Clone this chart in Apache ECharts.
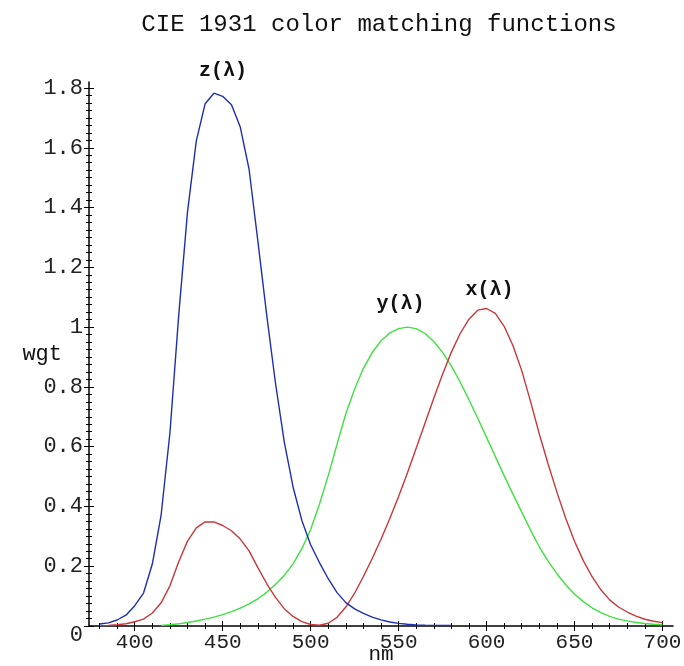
<!DOCTYPE html>
<html>
<head>
<meta charset="utf-8">
<script src="https://cdn.jsdelivr.net/npm/echarts@6/dist/echarts.min.js"></script>
<style>
html,body{margin:0;padding:0;background:#fff;}
#chart{width:684px;height:666px;}
</style>
</head>
<body>
<div id="chart"></div>
<script>
// Wavelengths (nm), 5 nm steps
const wavelengths = [380,385,390,395,400,405,410,415,420,425,430,435,440,445,450,455,460,465,470,475,480,485,490,495,500,505,510,515,520,525,530,535,540,545,550,555,560,565,570,575,580,585,590,595,600,605,610,615,620,625,630,635,640,645,650,655,660,665,670,675,680,685,690,695,700];
// x(λ)
const xbar = [0.0014,0.0022,0.0042,0.0077,0.0143,0.0232,0.0435,0.0776,0.1344,0.2148,0.2839,0.3285,0.3483,0.3481,0.3362,0.3187,0.2908,0.2511,0.1954,0.1421,0.0956,0.0580,0.0320,0.0147,0.0049,0.0024,0.0093,0.0291,0.0633,0.1096,0.1655,0.2257,0.2904,0.3597,0.4334,0.5121,0.5945,0.6784,0.7621,0.8425,0.9163,0.9786,1.0263,1.0567,1.0622,1.0456,1.0026,0.9384,0.8544,0.7514,0.6424,0.5419,0.4479,0.3608,0.2835,0.2187,0.1649,0.1212,0.0874,0.0636,0.0468,0.0329,0.0227,0.0158,0.0114];
// y(λ), plotted from 415 nm
const ybarStart = 415;
const ybar = [0.0022,0.0040,0.0073,0.0116,0.0168,0.0230,0.0298,0.0380,0.0480,0.0600,0.0739,0.0910,0.1126,0.1390,0.1693,0.2080,0.2586,0.3230,0.4073,0.5030,0.6082,0.7100,0.7932,0.8620,0.9149,0.9540,0.9803,0.9950,1.0000,0.9950,0.9786,0.9520,0.9154,0.8700,0.8163,0.7570,0.6949,0.6310,0.5668,0.5030,0.4412,0.3810,0.3210,0.2650,0.2170,0.1750,0.1382,0.1070,0.0816,0.0610,0.0446,0.0320,0.0232,0.0170,0.0119,0.0082,0.0057,0.0041];
// z(λ), plotted up to 580 nm
const zbar = [0.0065,0.0106,0.0201,0.0362,0.0679,0.1102,0.2074,0.3713,0.6456,1.0391,1.3856,1.6230,1.7471,1.7826,1.7721,1.7441,1.6692,1.5281,1.2876,1.0419,0.8130,0.6162,0.4652,0.3533,0.2720,0.2123,0.1582,0.1117,0.0783,0.0573,0.0422,0.0298,0.0203,0.0134,0.0088,0.0058,0.0039,0.0028,0.0021,0.0018,0.0017];

const xMajorTicks = [400,450,500,550,600,650,700];
const yMajorTicks = [0,0.2,0.4,0.6,0.8,1,1.2,1.4,1.6,1.8];
const xMinorTicks = [];
for (let v = 380; v <= 700; v += 10) xMinorTicks.push(v);
const yMinorTicks = [];
for (let i = 0; i <= 72; i++) yMinorTicks.push(Math.round(i * 25) / 1000);

const seriesNames = ['x(λ)', 'y(λ)', 'z(λ)'];

const FONT = 'Liberation Mono';
const X_MIN = 374, X_MAX = 706, Y_MIN = 0, Y_MAX = 1.82;

function pairs(xs, ys, start) {
  const out = [];
  const offset = start === undefined ? 0 : xs.indexOf(start);
  for (let i = 0; i < ys.length; i++) out.push([xs[i + offset], ys[i]]);
  return out;
}

function xAx(extra) {
  return Object.assign({
    type: 'value', gridIndex: 0, position: 'bottom', min: X_MIN, max: X_MAX,
    axisLine: { show: false, onZero: false }, splitLine: { show: false },
    axisLabel: { show: false }
  }, extra);
}
function yAx(extra) {
  return Object.assign({
    type: 'value', gridIndex: 0, position: 'left', min: Y_MIN, max: Y_MAX,
    axisLine: { show: false, onZero: false }, splitLine: { show: false },
    axisLabel: { show: false }
  }, extra);
}
const tickStyle = { color: '#000', width: 1 };

function peakLabel(text, offset) {
  return {
    symbol: 'circle', symbolSize: 1,
    itemStyle: { color: 'rgba(0,0,0,0)' },
    label: {
      show: true, formatter: text, position: 'inside', offset: offset,
      color: '#111', fontFamily: FONT, fontSize: 20, fontWeight: 'bold'
    },
    data: [{ type: 'max' }]
  };
}

const chart = echarts.init(document.getElementById('chart'), null, { renderer: 'canvas' });
chart.setOption({
  animation: false,
  backgroundColor: '#fff',
  title: {
    text: 'CIE 1931 color matching functions',
    left: 374, textAlign: 'center', top: 8,
    textStyle: { fontFamily: FONT, fontSize: 24, fontWeight: 'normal', color: '#111' }
  },
  grid: { left: 89, right: 11, top: 82, bottom: 40, containLabel: false, outerBoundsMode: 'none' },
  xAxis: [
    xAx({
      axisLine: { show: true, onZero: false, lineStyle: { color: '#000', width: 1.5 } },
      axisTick: { show: true, inside: false, length: 5, customValues: xMajorTicks, lineStyle: tickStyle },
      axisLabel: { show: true, customValues: xMajorTicks, margin: 6, color: '#222', fontFamily: FONT, fontSize: 21 },
      name: 'nm', nameLocation: 'middle', nameGap: 18, nameMoveOverlap: false,
      nameTextStyle: { fontFamily: FONT, fontSize: 21, color: '#111' }
    }),
    xAx({ axisTick: { show: true, inside: true, length: 5, customValues: xMajorTicks, lineStyle: tickStyle } }),
    xAx({ axisTick: { show: true, inside: false, length: 3, customValues: xMinorTicks, lineStyle: tickStyle } }),
    xAx({ axisTick: { show: true, inside: true, length: 3, customValues: xMinorTicks, lineStyle: tickStyle } })
  ],
  yAxis: [
    yAx({
      axisLine: { show: true, onZero: false, lineStyle: { color: '#000', width: 1.5 } },
      axisTick: { show: true, inside: false, length: 5, customValues: yMajorTicks, lineStyle: tickStyle },
      axisLabel: {
        show: true, customValues: yMajorTicks, margin: 6, color: '#222', fontFamily: FONT, fontSize: 22,
        formatter: function (v) {
          if (Math.abs(v) < 1e-9) return '{z|0}';
          return String(+(+v).toFixed(1));
        },
        rich: { z: { fontFamily: FONT, fontSize: 22, color: '#222', padding: [18, 0, 0, 0] } }
      },
      name: 'wgt', nameLocation: 'middle', nameGap: 27, nameRotate: 0, nameMoveOverlap: false,
      nameTextStyle: { fontFamily: FONT, fontSize: 22, color: '#111' }
    }),
    yAx({ axisTick: { show: true, inside: true, length: 5, customValues: yMajorTicks, lineStyle: tickStyle } }),
    yAx({ axisTick: { show: true, inside: false, length: 3, customValues: yMinorTicks, lineStyle: tickStyle } }),
    yAx({ axisTick: { show: true, inside: true, length: 3, customValues: yMinorTicks, lineStyle: tickStyle } })
  ],
  series: [
    {
      name: seriesNames[1], type: 'line', xAxisIndex: 0, yAxisIndex: 0,
      data: pairs(wavelengths, ybar, ybarStart), showSymbol: false, symbol: 'none',
      lineStyle: { color: '#3fe03f', width: 1.4 }, z: 3,
      markPoint: peakLabel(seriesNames[1], [-7, -23])
    },
    {
      name: seriesNames[0], type: 'line', xAxisIndex: 0, yAxisIndex: 0,
      data: pairs(wavelengths, xbar), showSymbol: false, symbol: 'none',
      lineStyle: { color: '#c8383a', width: 1.4 }, z: 4,
      markPoint: peakLabel(seriesNames[0], [3, -19])
    },
    {
      name: seriesNames[2], type: 'line', xAxisIndex: 0, yAxisIndex: 0,
      data: pairs(wavelengths, zbar), showSymbol: false, symbol: 'none',
      lineStyle: { color: '#1c2fb0', width: 1.4 }, z: 5,
      markPoint: peakLabel(seriesNames[2], [9, -22])
    }
  ]
});
</script>
</body>
</html>
